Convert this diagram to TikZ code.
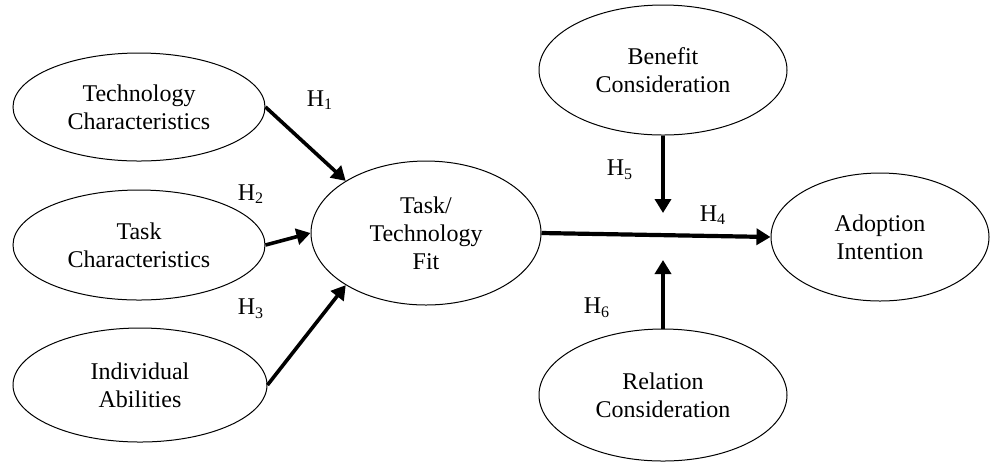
\documentclass[tikz,border=0pt]{standalone}
\usepackage{fontspec}
\setmainfont{Liberation Serif}
\usetikzlibrary{arrows.meta, positioning, shapes.geometric}

\begin{document}
\begin{tikzpicture}[x=0.5pt, y=-0.5pt,
    every node/.style={font=\fontsize{12}{14}\selectfont},
    factor/.style={ellipse, draw, line width=0.5pt, inner sep=0pt, align=center},
    hyp/.style={-{Triangle[length=7pt, width=8pt]}, line width=1.8pt}]
    \useasboundingbox (0,0) rectangle (990,463);

    % Nodes
    \node[factor, minimum width=126pt, minimum height=54pt] (tech) at (139,107) {Technology\\Characteristics};
    \node[factor, minimum width=126pt, minimum height=55pt] (task) at (139,245) {Task\\Characteristics};
    \node[factor, minimum width=127pt, minimum height=57pt] (abil) at (140,385) {Individual\\Abilities};
    \node[factor, minimum width=115pt, minimum height=72pt] (fit) at (426,233) {Task/\\Technology\\Fit};
    \node[factor, minimum width=124pt, minimum height=65pt] (benefit) at (663,70) {Benefit\\Consideration};
    \node[factor, minimum width=124pt, minimum height=66pt] (relation) at (663,395) {Relation\\Consideration};
    \node[factor, minimum width=109pt, minimum height=64pt] (adopt) at (880,237) {Adoption\\Intention};

    % free ends of the moderating arrows
    \coordinate (ben end) at (663,213);
    \coordinate (rel end) at (663,260);

    % Arrows
    \draw[hyp] (tech.east) -- (fit.147);
    \draw[hyp] (task.east) -- (fit.west);
    \draw[hyp] (abil.east) -- (fit.213);
    \draw[hyp, line width=2.1pt] (fit.east) -- (adopt.west);
    \draw[hyp, line width=2pt] (benefit.south) -- (ben end);
    \draw[hyp, line width=2pt] (relation.north) -- (rel end);

    % Hypothesis labels
    \node (h1) at (320,100) {H\textsubscript{1}};
    \node (h2) at (251,194) {H\textsubscript{2}};
    \node (h3) at (251,309) {H\textsubscript{3}};
    \node (h4) at (713,215) {H\textsubscript{4}};
    \node (h5) at (620,170) {H\textsubscript{5}};
    \node (h6) at (597,308) {H\textsubscript{6}};
\end{tikzpicture}
\end{document}
